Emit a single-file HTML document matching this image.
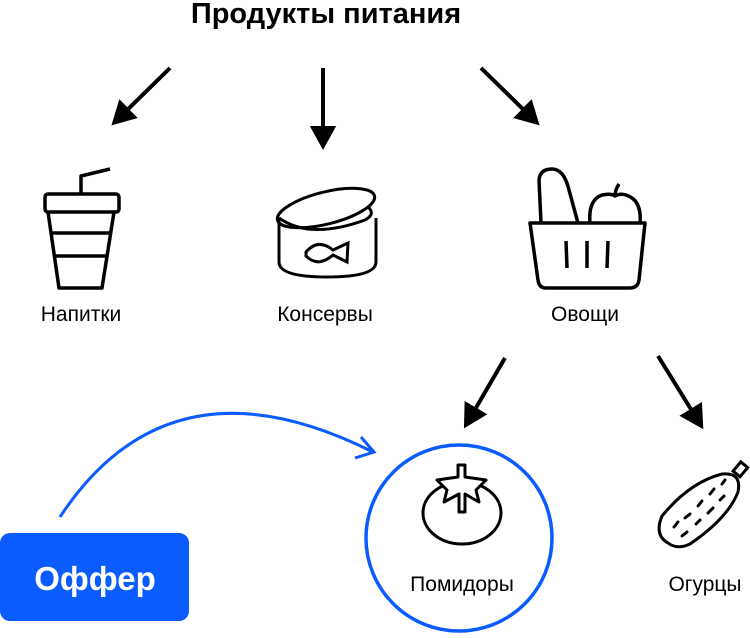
<!DOCTYPE html>
<html><head><meta charset="utf-8"><style>
body{margin:0;width:750px;height:633px;background:#fff;overflow:hidden;font-family:"Liberation Sans",sans-serif}
</style></head><body>
<svg width="750" height="633" viewBox="0 0 750 633" xmlns="http://www.w3.org/2000/svg" font-family="Liberation Sans, sans-serif">
<defs>
<marker id="ah" markerWidth="7" markerHeight="7" refX="3" refY="3.5" orient="auto" markerUnits="strokeWidth"><path d="M0,0.2 L6,3.5 L0,6.8 z" fill="#000"/></marker>
</defs>
<text x="326" y="23" text-anchor="middle" font-size="29" font-weight="bold">Продукты питания</text>
<g stroke="#000" stroke-width="4" fill="none" marker-end="url(#ah)">
<line x1="170" y1="68" x2="120" y2="117"/>
<line x1="323" y1="68" x2="323" y2="138"/>
<line x1="481" y1="68" x2="531" y2="117"/>
<line x1="505" y1="358" x2="470" y2="418"/>
<line x1="658" y1="356" x2="697" y2="419"/>
</g>
<g stroke="#000" stroke-width="3.5" fill="none" stroke-linejoin="round">
<rect x="45" y="194" width="74" height="18" rx="3"/>
<path d="M48,212 L59,288 L102,288 L114,212"/>
<line x1="51" y1="233" x2="111" y2="233"/><line x1="54" y1="256" x2="108" y2="256"/>
<path d="M81,194 V176 L110,169"/>
</g>
<g stroke="#000" stroke-width="3" fill="none">
<path d="M279,218 V262 Q279,277 327,277 Q376,277 376,262 V218"/>
<ellipse cx="326" cy="208" rx="50" ry="16" transform="rotate(-14 326 208)"/>
<path d="M279,218 Q310,240 365,220 Q376,214 368,207"/>
<path d="M306,252 Q318,238 333,250 L348,243 L347,262 L333,255 Q318,268 306,256 Z"/>
</g>
<g stroke="#000" stroke-width="3.5" fill="none" stroke-linejoin="round">
<path d="M530,223 H645 L639,280 Q638,288 630,288 H546 Q539,288 538,280 Z"/>
<path d="M541,223 L539,180 Q540,169 552,169 Q564,169 569,190 L578,223"/>
<path d="M590,223 Q588,200 602,195 Q611,193 615,196 Q620,193 626,195 Q642,200 640,223"/>
<path d="M615,196 Q615,190 619,184"/>
<line x1="566" y1="241" x2="567" y2="268"/><line x1="587" y1="241" x2="587" y2="268"/><line x1="608" y1="241" x2="607" y2="268"/>
</g>
<g stroke="#000" stroke-width="3" fill="none" stroke-linejoin="round">
<ellipse cx="462" cy="513" rx="39" ry="31"/>
<path d="M458,465 H465 V477 L486,480 L476,490 L479,502 L465,494 V512 L459,512 V494 L444,502 L447,490 L437,480 L458,477 Z" fill="#fff"/>
</g>
<g stroke="#000" stroke-width="3" fill="none">
<path d="M668,543 Q654,535 662,516 Q690,482 722,474 Q742,472 738,492 Q728,518 690,544 Q677,550 668,543 Z"/>
<rect x="736" y="463" width="9" height="12" transform="rotate(40 740 469)"/>
<path d="M674,527 l4,-5 M685,518 l5,-4 M698,506 l4,-5 M710,494 l4,-5 M722,484 l3,-4 M682,536 l5,-4 M696,524 l4,-4 M708,513 l5,-5 M720,500 l4,-4" stroke-linecap="round"/>
</g>
<g font-size="21" text-anchor="middle" fill="#000">
<text x="81" y="321">Напитки</text>
<text x="325" y="321">Консервы</text>
<text x="585" y="321">Овощи</text>
<text x="462" y="591">Помидоры</text>
<text x="705" y="591">Огурцы</text>
</g>
<circle cx="459" cy="538" r="93" stroke="#0a5cff" stroke-width="3.5" fill="none"/>
<path d="M60,517 Q170,350 373,452" stroke="#0a5cff" stroke-width="3" fill="none"/>
<path d="M361,437 L374,452 L355,458" stroke="#0a5cff" stroke-width="3" fill="none"/>
<rect x="0" y="533" width="189" height="88" rx="10" fill="#0a5cff"/>
<text x="95" y="590" text-anchor="middle" font-size="33" font-weight="bold" fill="#fff">Оффер</text>
</svg>
</body></html>
